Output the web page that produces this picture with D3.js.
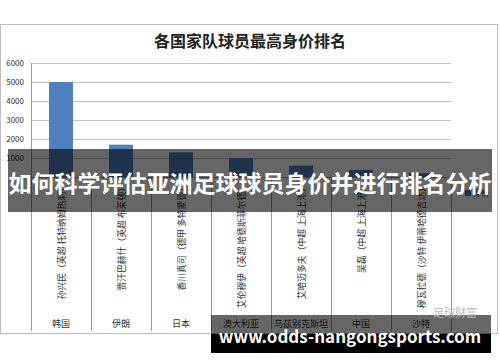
<!DOCTYPE html>
<html>
<head>
<meta charset="utf-8">
<script src="https://cdn.jsdelivr.net/npm/d3@7"></script>
<style>
  body { margin: 0; background: #fff; }
  text { font-family: "Noto Sans CJK SC", "Liberation Sans", sans-serif; }
</style>
</head>
<body>
<script>
let width = 500
let height = 362

// data
let countries = ['韩国', '伊朗', '日本', '澳大利亚', '乌兹别克斯坦', '中国', '沙特']
let players = [
  '孙兴民（英超 托特纳姆热刺）',
  '贾汗巴赫什（英超 布莱顿）',
  '香川真司（德甲 多特蒙德）',
  '艾伦穆伊（英超 哈德斯菲尔德）',
  '艾哈迈多夫（中超 上海上港）',
  '吴磊（中超 上海上港）',
  '穆瓦拉德（沙特 伊蒂哈德吉达）'
]
let values = [5000, 1700, 1300, 1000, 600, 370, 200]
let yTicks = [1000, 2000, 3000, 4000, 5000, 6000]

let svg = d3.select('body').append('svg')
    .attr('width', width)
    .attr('height', height)

// chart frame
svg.append('rect')
    .attr('x', 0.5).attr('y', 24.5)
    .attr('width', 497).attr('height', 309)
    .attr('fill', '#fff')
    .attr('stroke', '#bdbdbd')

svg.append('text')
    .attr('x', 250).attr('y', 47)
    .attr('text-anchor', 'middle')
    .attr('font-size', 16)
    .attr('font-weight', 'bold')
    .attr('fill', '#222')
    .text('各国家队球员最高身价排名')

let x = d3.scaleBand()
    .domain(d3.range(countries.length))
    .range([31, 451])
    .paddingInner(0.6)
    .paddingOuter(0.3)

let y = d3.scaleLinear()
    .domain([0, 6000])
    .range([177, 63])

// gridlines
svg.append('g')
    .selectAll('line')
    .data(yTicks)
    .enter().append('line')
    .attr('x1', 31).attr('x2', 451)
    .attr('y1', d => Math.round(y(d)) + 0.5)
    .attr('y2', d => Math.round(y(d)) + 0.5)
    .attr('stroke', '#c4c4c4')

let yAxis = svg.append('g')
    .attr('transform', 'translate(31,0)')
    .call(d3.axisLeft(y).tickValues(yTicks).tickSize(0).tickPadding(7).tickFormat(d3.format('d')))
yAxis.select('.domain').remove()
yAxis.selectAll('text')
    .attr('font-family', '"Liberation Sans", sans-serif')
    .attr('font-size', 8)
    .attr('fill', '#333')

// bars
svg.append('g')
    .selectAll('rect')
    .data(values)
    .enter().append('rect')
    .attr('x', (d, i) => x(i))
    .attr('y', d => y(d))
    .attr('width', x.bandwidth())
    .attr('height', d => y(0) - y(d))
    .attr('fill', '#4f81bd')

// category axis: baseline and dividers
svg.append('line')
    .attr('x1', 31).attr('x2', 451)
    .attr('y1', 177.5).attr('y2', 177.5)
    .attr('stroke', '#999')

let step = x.step()
svg.append('g')
    .selectAll('line')
    .data(d3.range(countries.length + 1))
    .enter().append('line')
    .attr('x1', i => 31.5 + i * step)
    .attr('x2', i => 31.5 + i * step)
    .attr('y1', i => (i === 0 ? 63 : 177))
    .attr('y2', 331)
    .attr('stroke', '#999')

// player names, rotated
svg.append('g')
    .selectAll('text')
    .data(players)
    .enter().append('text')
    .attr('transform', (d, i) => 'translate(' + (x(i) + x.bandwidth() / 2 + 1) + ',183) rotate(-90)')
    .attr('text-anchor', 'end')
    .attr('dy', '0.35em')
    .attr('font-size', 8.8)
    .attr('fill', '#333')
    .text(d => d)

// country names
svg.append('g')
    .selectAll('text')
    .data(countries)
    .enter().append('text')
    .attr('x', (d, i) => x(i) + x.bandwidth() / 2)
    .attr('y', 327)
    .attr('text-anchor', 'middle')
    .attr('font-size', 9)
    .attr('fill', '#333')
    .text(d => d)

// legend
svg.append('rect')
    .attr('x', 465).attr('y', 190)
    .attr('width', 6).attr('height', 6)
    .attr('fill', '#4f81bd')
svg.append('text')
    .attr('x', 473).attr('y', 196)
    .attr('font-size', 8)
    .attr('fill', '#333')
    .text('身价')

// overlay banner
svg.append('rect')
    .attr('x', 8).attr('y', 149)
    .attr('width', 484).attr('height', 63)
    .attr('fill', 'rgba(0,0,0,0.6)')
svg.append('text')
    .attr('x', 250).attr('y', 192)
    .attr('text-anchor', 'middle')
    .attr('font-size', 23)
    .attr('font-weight', 'bold')
    .attr('fill', '#fff')
    .text('如何科学评估亚洲足球球员身价并进行排名分析')

// watermark
svg.append('rect')
    .attr('x', 211).attr('y', 315)
    .attr('width', 280).attr('height', 19)
    .attr('fill', 'rgba(0,0,0,0.6)')
svg.append('rect')
    .attr('x', 211).attr('y', 334)
    .attr('width', 280).attr('height', 19)
    .attr('fill', '#000')
svg.append('text')
    .attr('x', 455).attr('y', 317)
    .attr('text-anchor', 'middle')
    .attr('font-size', 11)
    .attr('fill', '#bbb')
    .text('足球财富')
svg.append('text')
    .attr('x', 350).attr('y', 343)
    .attr('text-anchor', 'middle')
    .attr('font-family', '"DejaVu Sans", sans-serif')
    .attr('font-size', 17)
    .attr('font-weight', 'bold')
    .attr('fill', '#fff')
    .text('www.odds-nangongsports.com')
</script>
</body>
</html>
